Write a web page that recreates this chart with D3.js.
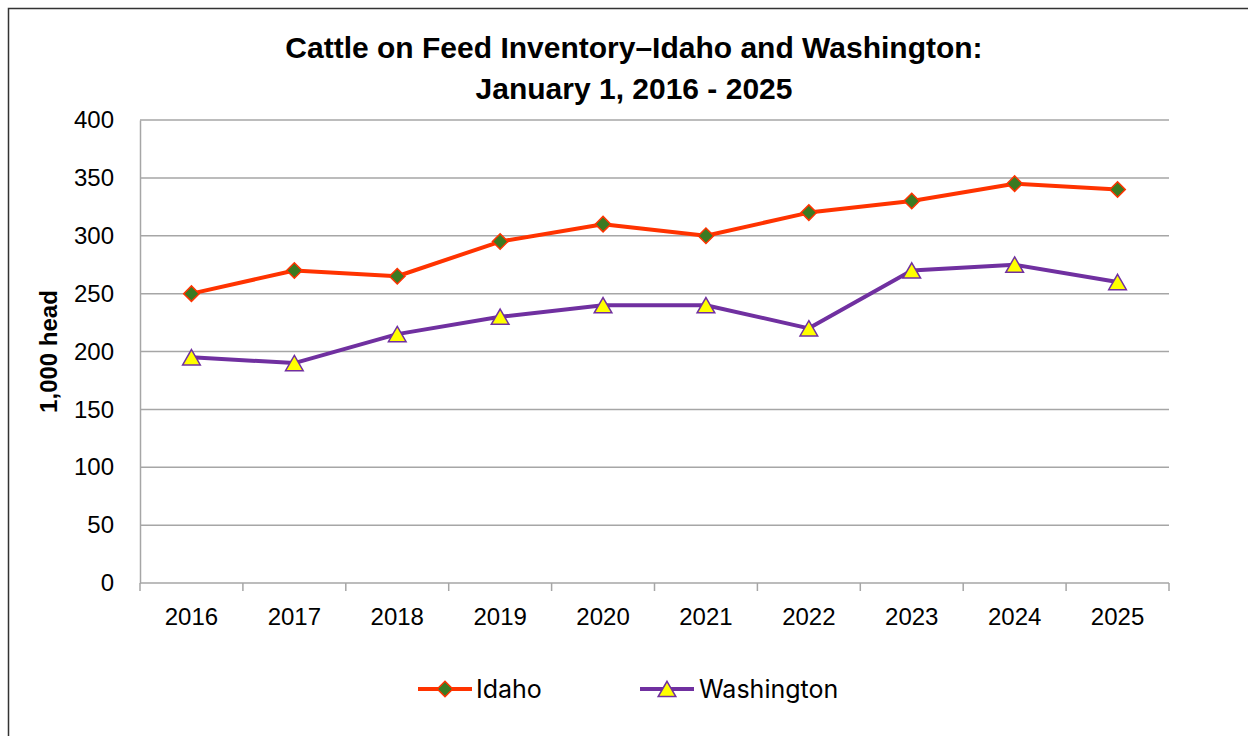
<!DOCTYPE html>
<html>
<head>
<meta charset="utf-8">
<script src="https://cdn.jsdelivr.net/npm/d3@7"></script>
<style>
  body { margin: 0; background: #fff; }
  svg { display: block; }
</style>
</head>
<body>
<script>
var years = ["2016", "2017", "2018", "2019", "2020", "2021", "2022", "2023", "2024", "2025"];
var idaho = [250, 270, 265, 295, 310, 300, 320, 330, 345, 340];
var washington = [195, 190, 215, 230, 240, 240, 220, 270, 275, 260];
var yTicks = [0, 50, 100, 150, 200, 250, 300, 350, 400];

var W = 1248, H = 736;
var plot = {left: 140, right: 1169, top: 120, bottom: 583};

var svg = d3.select("body").append("svg")
    .attr("width", W)
    .attr("height", H);

// chart frame
svg.append("rect")
    .attr("x", 8.5).attr("y", 8.5)
    .attr("width", W + 20).attr("height", H + 20)
    .attr("fill", "#fff")
    .attr("stroke", "#333")
    .attr("stroke-width", 1.5);

var x = d3.scaleBand().domain(years).range([plot.left, plot.right]);
var y = d3.scaleLinear().domain([0, 400]).range([plot.bottom, plot.top]);

// gridlines
svg.append("g")
    .selectAll("line")
    .data(yTicks.filter(function (d) { return d > 0; }))
    .enter().append("line")
    .attr("x1", plot.left).attr("x2", plot.right)
    .attr("y1", function (d) { return y(d); })
    .attr("y2", function (d) { return y(d); })
    .attr("stroke", "#a6a6a6")
    .attr("stroke-width", 1.5);

// y axis
var yAxis = svg.append("g")
    .attr("transform", "translate(" + plot.left + ",0)")
    .call(d3.axisLeft(y).tickValues(yTicks).tickSize(0).tickPadding(26));
yAxis.select(".domain").attr("stroke", "#a6a6a6").attr("stroke-width", 1.5);
yAxis.selectAll("text")
    .style("font-family", "Liberation Sans, Arial, sans-serif")
    .style("font-size", "24px")
    .attr("fill", "#000");

// x axis with tick marks on category boundaries
var xAxis = svg.append("g")
    .attr("transform", "translate(0," + plot.bottom + ")");
xAxis.append("line")
    .attr("x1", plot.left).attr("x2", plot.right)
    .attr("stroke", "#a6a6a6").attr("stroke-width", 1.5);
var bounds = years.map(function (d) { return x(d); }).concat([x(years[years.length - 1]) + x.bandwidth()]);
xAxis.selectAll(".tick-mark")
    .data(bounds)
    .enter().append("line")
    .attr("class", "tick-mark")
    .attr("x1", function (d) { return d; })
    .attr("x2", function (d) { return d; })
    .attr("y1", 0).attr("y2", 8)
    .attr("stroke", "#a6a6a6").attr("stroke-width", 1.5);
xAxis.selectAll(".tick-label")
    .data(years)
    .enter().append("text")
    .attr("class", "tick-label")
    .attr("x", function (d) { return x(d) + x.bandwidth() / 2; })
    .attr("y", 42)
    .attr("text-anchor", "middle")
    .style("font-family", "Liberation Sans, Arial, sans-serif")
    .style("font-size", "24px")
    .text(function (d) { return d; });

// y axis title
svg.append("text")
    .attr("transform", "translate(57," + ((plot.top + plot.bottom) / 2) + ")rotate(-90)")
    .attr("text-anchor", "middle")
    .style("font-family", "Liberation Sans, Arial, sans-serif")
    .style("font-size", "24px")
    .style("font-weight", "bold")
    .text("1,000 head");

// title
var title = svg.append("text")
    .attr("text-anchor", "middle")
    .style("font-family", "Liberation Sans, Arial, sans-serif")
    .style("font-size", "30px")
    .style("font-weight", "bold");
title.append("tspan").attr("x", 634).attr("y", 58).text("Cattle on Feed Inventory\u2013Idaho and Washington:");
title.append("tspan").attr("x", 634).attr("y", 99).text("January 1, 2016 - 2025");

var series = [
    {name: "Idaho", values: idaho, color: "#ff3300", fill: "#3b7a22", shape: d3.symbolSquare, size: 120, rot: 45, dy: 0},
    {name: "Washington", values: washington, color: "#7030a0", fill: "#ffff00", shape: d3.symbolTriangle, size: 135, rot: 0, dy: 2.5}
];

var line = d3.line()
    .x(function (d, i) { return x(years[i]) + x.bandwidth() / 2; })
    .y(function (d) { return y(d); });

series.forEach(function (s) {
    svg.append("path")
        .datum(s.values)
        .attr("d", line)
        .attr("fill", "none")
        .attr("stroke", s.color)
        .attr("stroke-width", 4)
        .attr("stroke-linejoin", "round");

    svg.selectAll(".pt-" + s.name)
        .data(s.values)
        .enter().append("path")
        .attr("d", d3.symbol().type(s.shape).size(s.size))
        .attr("transform", function (d, i) {
            return "translate(" + (x(years[i]) + x.bandwidth() / 2) + "," + (y(d) + s.dy) + ")rotate(" + s.rot + ")";
        })
        .attr("fill", s.fill)
        .attr("stroke", s.color)
        .attr("stroke-width", 1.5);
});

// legend
var legendPos = [{x: 418, tx: 476}, {x: 640, tx: 699}];
series.forEach(function (s, i) {
    var g = svg.append("g").attr("transform", "translate(0,689)");
    g.append("line")
        .attr("x1", legendPos[i].x).attr("x2", legendPos[i].x + 54)
        .attr("stroke", s.color).attr("stroke-width", 4);
    g.append("path")
        .attr("d", d3.symbol().type(s.shape).size(s.size))
        .attr("transform", "translate(" + (legendPos[i].x + 27) + "," + s.dy + ")rotate(" + s.rot + ")")
        .attr("fill", s.fill)
        .attr("stroke", s.color)
        .attr("stroke-width", 1.5);
    g.append("text")
        .attr("x", legendPos[i].tx)
        .attr("y", 9)
        .style("font-family", "Inter, Noto Sans, sans-serif")
        .style("font-size", "25px")
        .text(s.name);
});
</script>
</body>
</html>
